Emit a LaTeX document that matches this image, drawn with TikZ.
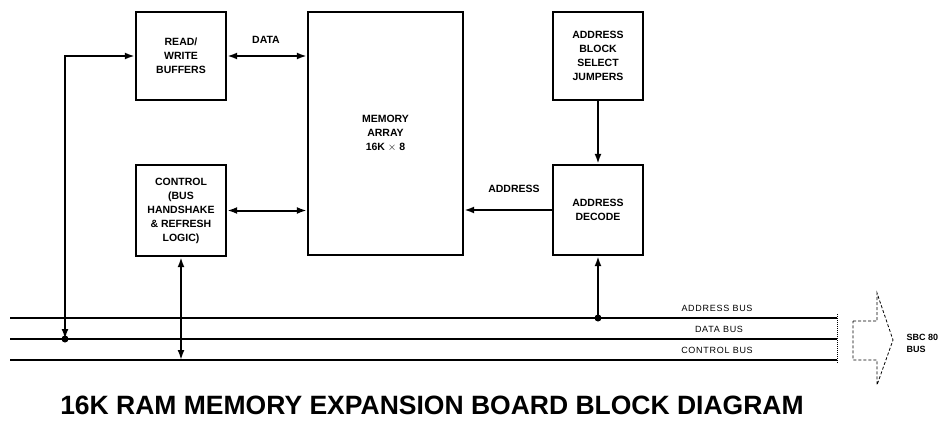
\documentclass[tikz,border=0pt]{standalone}
\usepackage{fontspec}
\setmainfont{Liberation Sans}
\newfontfamily\busfont[LetterSpace=8]{Liberation Sans}
\usetikzlibrary{arrows.meta}

\tikzset{
  blk/.style={draw, line width=2.4pt, minimum width=90pt, minimum height=88pt,
    align=center, inner sep=2pt, font=\fontsize{10.5}{14}\selectfont\bfseries},
  lbl/.style={font=\fontsize{10.5}{12}\selectfont\bfseries},
  buslbl/.style={font=\fontsize{9}{10}\selectfont\busfont},
  link/.style={line width=2pt, {Latex[length=10pt,width=7pt]}-{Latex[length=10pt,width=7pt]}},
  feed/.style={line width=2pt, -{Latex[length=10pt,width=7pt]}},
  busline/.style={line width=2pt},
  tap/.style={circle, fill, inner sep=0pt, minimum size=7pt}
}

\begin{document}
\begin{tikzpicture}[x=1pt,y=-1pt]
\useasboundingbox (0,0) rectangle (950,423);

% Draw blocks
\node[blk] (rw) at (181,56) {READ/\\WRITE\\BUFFERS};
\node[blk, minimum height=91pt] (ctrl) at (181,210.5) {CONTROL\\(BUS\\HANDSHAKE\\\& REFRESH\\LOGIC)};
\node[blk, minimum width=155pt, minimum height=243pt] (mem) at (385.5,133.5) {MEMORY\\ARRAY\\16K $\times$ 8};
\node[blk] (jmp) at (598,56) {ADDRESS\\BLOCK\\SELECT\\JUMPERS};
\node[blk, minimum height=90pt] (dec) at (598,210) {ADDRESS\\DECODE};

% Draw links between blocks
\draw[link] (rw.east) -- (mem.west |- rw.east);
\node[lbl] (datalbl) at (266,40) {DATA};
\draw[link] (ctrl.east) -- (mem.west |- ctrl.east);
\draw[feed] (dec.west) -- (mem.east |- dec.west);
\node[lbl] (addrlbl) at (514,189) {ADDRESS};
\draw[feed] (jmp.south) -- (dec.north);

% Draw buses
\foreach \y/\name/\lx/\txt in {318/ab/717/ADDRESS BUS, 339/db/719/DATA BUS, 360/cb/717/CONTROL BUS} {
    \coordinate (\name-w) at (10,\y);
    \coordinate (\name-e) at (837,\y);
    \draw[busline] (\name-w) -- (\name-e);
    \node[buslbl] (\name-lbl) at (\lx,\y-10) {\txt};
}

% Taps onto the buses
\coordinate (rwtap) at (65,339);
\draw[link] (rw.west) -| (rwtap);
\node[tap] (rwdot) at (rwtap) {};
\coordinate (cbtap) at (ctrl.south |- cb-w);
\draw[link] (ctrl.south) -- (cbtap);
\coordinate (abtap) at (dec.south |- ab-w);
\draw[feed] (abtap) -- (dec.south);
\node[tap] (abdot) at (abtap) {};

% Board edge and bus connector
\draw[densely dotted, line width=1pt] (837,314) -- (837,363);
\draw[densely dashed, line width=0.8pt] (853,321) -- (877,321) -- (877,293) -- (893,340)
    -- (877,385) -- (877,360) -- (853,360) -- cycle;
\node[lbl, anchor=west, align=left, font=\fontsize{9}{12}\selectfont\bfseries] (sbc) at (903,343) {SBC 80\\BUS};

\node[font=\fontsize{26.5}{30}\selectfont\bfseries] (title) at (432,405) {16K RAM MEMORY EXPANSION BOARD BLOCK DIAGRAM};
\end{tikzpicture}
\end{document}
